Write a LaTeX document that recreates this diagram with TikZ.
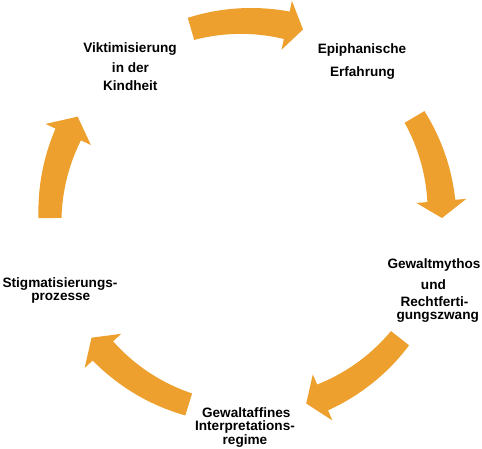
\documentclass[tikz,border=0pt]{standalone}
\usepackage{fontspec}
\setmainfont{Liberation Sans}
\definecolor{cycorange}{RGB}{238,160,46}
% #1 tail angle, #2 head base angle, #3 tip angle
\newcommand\cycarrow[3]{%
  \fill[cycfill]
    plot[domain=#1:#2,samples=30] ({\x}:{207.5+2.5*(\x-(#1))/((#2)-(#1))})
    -- ({#2}:221) -- ({#3}:196) -- ({#2}:171)
    -- plot[domain=#2:#1,samples=30] ({\x}:{184.5-2.5*(\x-(#1))/((#2)-(#1))})
    -- cycle;}
\begin{document}
\begin{tikzpicture}[x=1pt,y=1pt,
  lbl/.style={font=\fontsize{13.6}{16}\selectfont\bfseries, inner sep=0pt, anchor=base, text=black},
  cycfill/.style={fill=cycorange}]
\useasboundingbox (0,0) rectangle (482,448);
\fill[white] (0,0) rectangle (482,448);
\begin{scope}[shift={(246,231)}]
  \cycarrow{106.3}{78.0}{73.1}
  \cycarrow{30.7}{4.7}{-0.3}
  \cycarrow{-38.2}{-67}{-72.1}
  \cycarrow{-107}{-136.9}{-142}
  \cycarrow{180.3}{155.1}{149.2}
\end{scope}
\node[lbl] (vik1) at (130,395.7) {Viktimisierung};
\node[lbl] (vik2) at (130.5,375.7) {in der};
\node[lbl] (vik3) at (130.3,357) {Kindheit};
\node[lbl] (epi1) at (362,394.7) {Epiphanische};
\node[lbl] (epi2) at (362.5,371.3) {Erfahrung};
\node[lbl] (gew1) at (434,179.7) {Gewaltmythos};
\node[lbl] (gew2) at (433.4,158.7) {und};
\node[lbl] (gew3) at (434.5,141.3) {Rechtferti-};
\node[lbl] (gew4) at (437.7,128.5) {gungszwang};
\node[lbl] (sti1) at (60,160.7) {Stigmatisierungs-};
\node[lbl] (sti2) at (60.8,148) {prozesse};
\node[lbl] (gaf1) at (246.3,30.7) {Gewaltaffines};
\node[lbl] (gaf2) at (245,17.3) {Interpretations-};
\node[lbl] (gaf3) at (245,4) {regime};
\end{tikzpicture}
\end{document}
